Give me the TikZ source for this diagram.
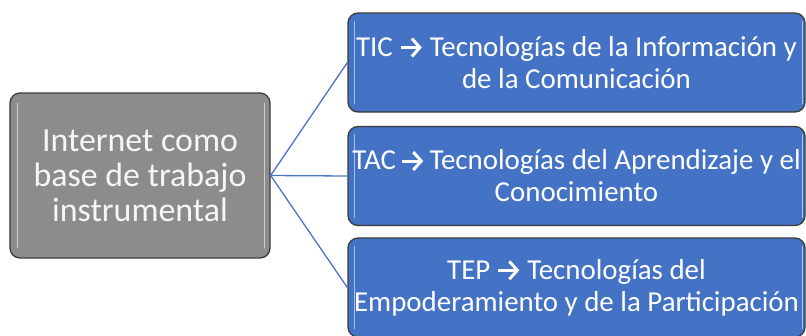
\documentclass[tikz,border=0pt]{standalone}
\usepackage{fontspec}
\usetikzlibrary{arrows.meta}
\setmainfont{Carlito}
\definecolor{boxblue}{HTML}{4472C4}
\definecolor{boxgray}{HTML}{8C8C8C}
\definecolor{edgegray}{HTML}{3C3C3C}
\definecolor{linkblue}{HTML}{4A74C6}
\newcommand{\rarr}{\tikz[x=1pt,y=1pt,baseline=-9pt]{\path (-1,0) -- (22,0); \draw[white,line width=3pt,-{Straight Barb[length=8pt,width=18pt,line width=3pt]}] (0,0) -- (21,0);}}
\begin{document}
\begin{tikzpicture}[x=1bp,y=-1bp,
  boxbase/.style={draw=edgegray, line width=1.3bp, rounded corners=10bp, inner sep=0pt, text=white, align=center},
  graybox/.style={boxbase, fill=boxgray, minimum width=260bp, minimum height=165bp, font=\fontsize{34}{35}\selectfont, text=white!93!gray},
  bluebox/.style={boxbase, fill=boxblue, minimum width=457bp, minimum height=99bp, font=\fontsize{29}{32}\selectfont},
  shine/.style={white, opacity=0.55, line width=1.6bp, line cap=round},
  conn/.style={linkblue, line width=1.3bp}]
\useasboundingbox (0,0) rectangle (806,335);
\fill[white] (0,0) rectangle (806,335);
\node[graybox] (lbox) at (140,175.5) {Internet como\\base de trabajo\\instrumental};
\node[bluebox] (b1) at (576.5,62.5) {TIC \rarr{} Tecnologías de la Información y\\de la Comunicación};
\node[bluebox] (b2) at (576.5,176) {TAC\,\rarr\,Tecnologías del Aprendizaje y el\\Conocimiento};
\node[bluebox] (b3) at (576.5,287.5) {TEP \rarr{} Tecnologías del\\Empoderamiento y de la Participación};
\foreach \b in {b1,b2,b3}{
  \draw[shine] ([xshift=7bp,yshift=-9bp]\b.north west) -- ([xshift=7bp,yshift=9bp]\b.south west);
  \draw[shine] ([xshift=-3bp,yshift=-9bp]\b.north east) -- ([xshift=-3bp,yshift=9bp]\b.south east);
}
\draw[shine] ([xshift=8bp,yshift=-11bp]lbox.north west) -- ([xshift=8bp,yshift=11bp]lbox.south west);
\draw[shine] ([xshift=-6bp,yshift=-11bp]lbox.north east) -- ([xshift=-6bp,yshift=11bp]lbox.south east);
\draw[conn] (lbox.east) -- (b1.west);
\draw[conn] (lbox.east) -- (b2.west);
\draw[conn] (lbox.east) -- (b3.west);
\end{tikzpicture}
\end{document}
